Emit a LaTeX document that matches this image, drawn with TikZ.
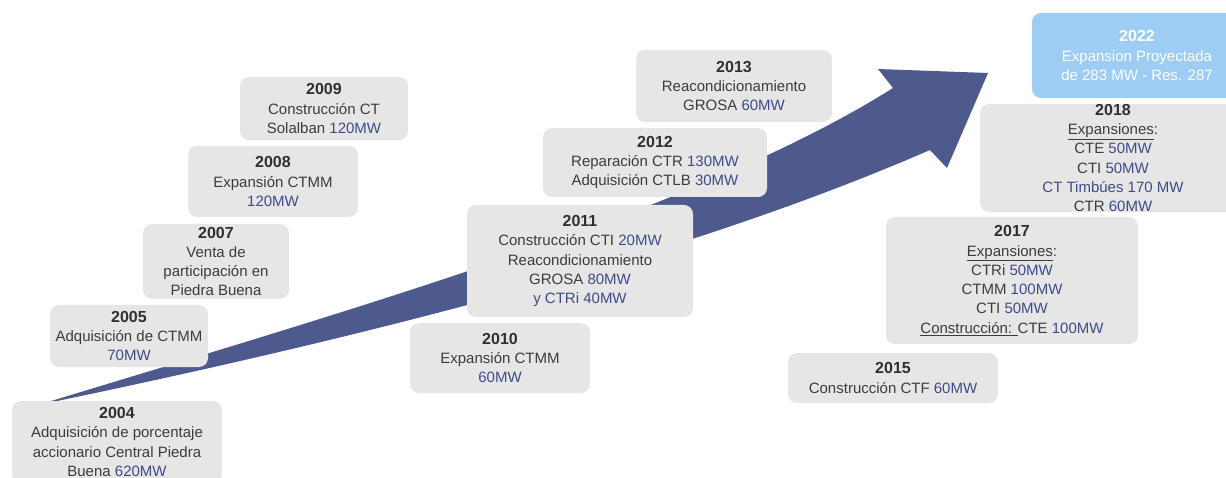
\documentclass[tikz,border=0pt]{standalone}
\usepackage{fontspec}
\setmainfont{Liberation Sans}
\usepackage{tikz}
\definecolor{arrowblue}{HTML}{4E5A8E}
\definecolor{mwblue}{HTML}{3F4B86}
\definecolor{boxgray}{HTML}{E6E6E6}
\definecolor{txtgray}{HTML}{3C3C3C}
\definecolor{yeargray}{HTML}{303030}
\definecolor{skyblue}{HTML}{9DCCF5}
\newcommand{\mw}[1]{\textcolor{mwblue}{#1}}
\newcommand{\yr}[1]{{\fontsize{16}{19.3}\selectfont\textbf{\textcolor{yeargray}{#1}}}}

\begin{document}
\begin{tikzpicture}[x=1pt, y=-1pt,
                    yearbox/.style={fill=boxgray, rounded corners=9pt, align=center,
                                    inner sep=0pt, text=txtgray,
                                    font=\fontsize{15}{19.3}\selectfont},
                    futurebox/.style={yearbox, fill=skyblue, text=white}]

\useasboundingbox (0,0) rectangle (1226,478);
\clip (0,0) rectangle (1226,478);

%growth arrow
\fill [arrowblue] (38,405)
   .. controls (350,310) and (700,210) .. (893,88)
   -- (878,69) -- (988,73) -- (947,168) -- (930,150)
   .. controls (700,250) and (400,330) .. cycle;

%left part
\node [yearbox, minimum width=210pt, minimum height=82pt] (y2004) at (117,442)
  {\yr{2004}\\Adquisición de porcentaje\\accionario Central Piedra\\Buena \mw{620MW}};
\node [yearbox, minimum width=158pt, minimum height=62pt] (y2005) at (129,336)
  {\yr{2005}\\Adquisición de CTMM\\\mw{70MW}};
\node [yearbox, minimum width=146pt, minimum height=75pt] (y2007) at (216,261.5)
  {\yr{2007}\\Venta de\\participación en\\Piedra Buena};
\node [yearbox, minimum width=170pt, minimum height=71pt] (y2008) at (273,181.5)
  {\yr{2008}\\Expansión CTMM\\\mw{120MW}};
\node [yearbox, minimum width=168pt, minimum height=63pt] (y2009) at (324,108.5)
  {\yr{2009}\\Construcción CT\\Solalban \mw{120MW}};

%middle part
\node [yearbox, minimum width=180pt, minimum height=70pt] (y2010) at (500,358)
  {\yr{2010}\\Expansión CTMM\\\mw{60MW}};
\node [yearbox, minimum width=226pt, minimum height=112pt] (y2011) at (580,261)
  {\yr{2011}\\Construcción CTI \mw{20MW}\\Reacondicionamiento\\GROSA \mw{80MW}\\\mw{y CTRi 40MW}};
\node [yearbox, minimum width=224pt, minimum height=69pt] (y2012) at (655,162.5)
  {\yr{2012}\\Reparación CTR \mw{130MW}\\Adquisición CTLB \mw{30MW}};
\node [yearbox, minimum width=196pt, minimum height=72pt] (y2013) at (734,86)
  {\yr{2013}\\Reacondicionamiento\\GROSA \mw{60MW}};

%right part
\node [yearbox, minimum width=210pt, minimum height=50pt] (y2015) at (893,378)
  {\yr{2015}\\Construcción CTF \mw{60MW}};
\node [yearbox, minimum width=252pt, minimum height=127pt] (y2017) at (1012,280.5)
  {\yr{2017}\\\underline{Expansiones}:\\CTRi \mw{50MW}\\CTMM \mw{100MW}\\CTI \mw{50MW}\\\underline{Construcción: }CTE \mw{100MW}};
\node [yearbox, minimum width=266pt, minimum height=108pt] (y2018) at (1113,158)
  {\yr{2018}\\\underline{Expansiones}:\\CTE \mw{50MW}\\CTI \mw{50MW}\\\mw{CT Timbúes 170 MW}\\CTR \mw{60MW}};
\node [futurebox, minimum width=210pt, minimum height=85pt] (y2022) at (1137,55.5)
  {{\fontsize{16}{19.3}\selectfont\textbf{2022}}\\Expansion Proyectada\\de 283 MW - Res. 287};

\end{tikzpicture}
\end{document}
